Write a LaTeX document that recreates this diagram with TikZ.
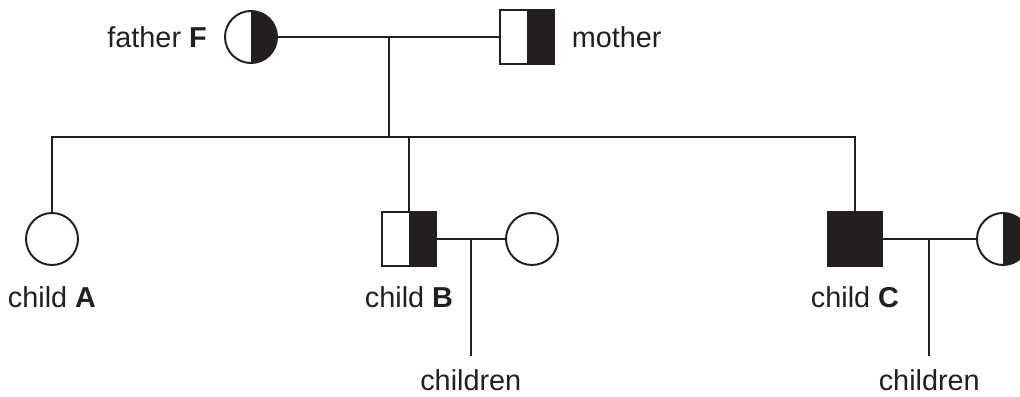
\documentclass[tikz,border=0pt]{standalone}
\usepackage{fontspec}
\setmainfont{Liberation Sans}
\usetikzlibrary{positioning,calc}
\definecolor{ink}{RGB}{35,31,32}

\begin{document}
\begin{tikzpicture}[
  x=0.025cm, y=-0.025cm,
  node distance=5mm and 4.25mm,
  female/.style={
    circle, draw=ink, line width=1.4pt,
    minimum size=1.3cm, inner sep=0pt
  },
  male/.style={
    rectangle, draw=ink, line width=1.4pt,
    minimum size=1.33cm, inner sep=0pt
  },
  carrier/.style={
    path picture={\fill[ink] (path picture bounding box.north)
      rectangle (path picture bounding box.south east);}
  },
  affected/.style={fill=ink},
  tag/.style={font=\fontsize{20.5}{24}\selectfont, text=ink, inner sep=0pt},
  kids/.style={tag, outer ysep=3.3mm},
  link/.style={draw=ink, line width=1.4pt}
]

\useasboundingbox (0,0) rectangle (1020,396);
\clip (0,0) rectangle (1020,396);

% =====================================================
% PARENTS
% =====================================================

\node[female, carrier] (father) at (251,37) {};
\node[male, carrier] (mother) at (527,37) {};

\node[tag, left=of father] (fatherlab) {father \textbf{F}};
\node[tag, right=of mother] (motherlab) {mother};

\coordinate (mateFM) at (389,37);
\coordinate (sibs) at (389,137);

\draw[link] (father) -- (mother);
\draw[link] (mateFM) -- (sibs);

% =====================================================
% CHILDREN
% =====================================================

\node[female] (childA) at (52,239) {};
\node[male, carrier] (childB) at (409,239) {};
\node[male, affected] (childC) at (855,239) {};

\node[tag, below=of childA] (labA) {child \textbf{A}};
\node[tag, below=of childB] (labB) {child \textbf{B}};
\node[tag, below=of childC] (labC) {child \textbf{C}};

\draw[link] (childA.north) |- (sibs) -| (childC.north);
\draw[link] (sibs -| childB) -- (childB.north);

% =====================================================
% PARTNERS OF B AND C
% =====================================================

\node[female] (partnerB) at (532,239) {};
\node[female, carrier] (partnerC) at (1003,239) {};

\coordinate (mateB) at ($(childB.east)!0.5!(partnerB.west)$);
\coordinate (mateC) at ($(childC.east)!0.5!(partnerC.west)$);

\draw[link] (childB) -- (partnerB);
\draw[link] (childC) -- (partnerC);

\node[kids, below=2.925cm of mateB] (kidsB) {children};
\node[kids, below=2.925cm of mateC] (kidsC) {children};

\draw[link] (mateB) -- (kidsB.north);
\draw[link] (mateC) -- (kidsC.north);

\end{tikzpicture}
\end{document}
